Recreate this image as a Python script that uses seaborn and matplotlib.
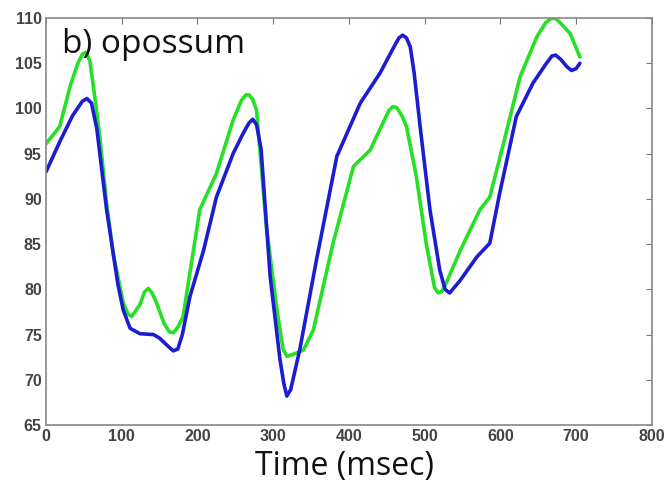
import matplotlib
matplotlib.use("Agg")
import matplotlib.pyplot as plt
import seaborn as sns
import pandas as pd

# Blue trace
blue_t = [0, 18, 35, 48, 54, 60, 67, 80, 95, 102, 111, 124, 142, 150, 160, 168, 174, 180, 190, 208, 225, 247,
          260, 268, 273, 278, 284, 296, 309, 314, 318, 323, 335, 357, 384, 415, 441, 460, 466, 471, 476, 481,
          486, 494, 507, 520, 527, 533, 547, 569, 586, 599, 621, 643, 660, 668, 673, 680, 688, 694, 700, 705]
blue_v = [93.0, 96.3, 99.2, 100.8, 101.1, 100.6, 97.8, 88.8, 80.5, 77.7, 75.7, 75.1, 75.0, 74.6, 73.8, 73.2,
          73.4, 75.0, 79.2, 84.3, 90.2, 95.0, 97.2, 98.4, 98.8, 98.2, 95.5, 81.4, 72.2, 69.6, 68.2, 68.9, 73.3,
          83.2, 94.7, 100.6, 103.9, 106.9, 107.8, 108.1, 107.8, 106.8, 104.0, 98.0, 88.8, 82.1, 80.0, 79.6, 81.0,
          83.6, 85.1, 90.6, 99.1, 102.8, 104.9, 105.8, 105.9, 105.4, 104.6, 104.2, 104.4, 105.0]

# Green trace
green_t = [0, 18, 32, 42, 48, 53, 58, 64, 71, 80, 89, 102, 108, 113, 124, 130, 135, 140, 146, 156, 163, 168, 174,
           181, 203, 225, 247, 258, 264, 268, 273, 278, 291, 305, 313, 318, 326, 340, 353, 379, 406, 428, 445,
           453, 458, 463, 470, 476, 489, 502, 513, 518, 523, 530, 547, 573, 586, 604, 626, 648, 660, 666, 670,
           675, 682, 692, 705]
green_v = [96.1, 98.0, 102.5, 105.0, 106.0, 106.2, 105.2, 101.5, 96.9, 89.5, 83.8, 78.5, 77.3, 77.0, 78.3, 79.7,
           80.1, 79.6, 78.5, 76.2, 75.3, 75.2, 75.8, 77.0, 88.8, 92.8, 98.7, 100.9, 101.5, 101.5, 101.0, 99.8, 86.9,
           77.7, 73.4, 72.6, 72.8, 73.3, 75.5, 85.1, 93.6, 95.4, 98.4, 99.8, 100.2, 100.1, 99.2, 98.0, 92.5, 85.1,
           80.2, 79.6, 79.8, 81.0, 84.3, 88.8, 90.2, 96.1, 103.5, 107.9, 109.5, 109.9, 110.0, 109.8, 109.2, 108.3,
           105.7]

x_ticks = [0, 100, 200, 300, 400, 500, 600, 700, 800]
y_ticks = [65, 70, 75, 80, 85, 90, 95, 100, 105, 110]

df = pd.concat([
    pd.DataFrame({"t": blue_t, "v": blue_v, "s": "blue"}),
    pd.DataFrame({"t": green_t, "v": green_v, "s": "green"}),
])

sns.set_style("white")
fig = plt.figure(figsize=(6.72, 4.83), dpi=100)
ax = fig.add_axes([0.0685, 0.120, 0.9015, 0.8427])

sns.lineplot(data=df, x="t", y="v", hue="s", palette={"blue": "#1c1cd2", "green": "#26e026"},
             hue_order=["green", "blue"], sort=False, estimator=None, linewidth=2.6, legend=False, ax=ax)
for ln in ax.get_lines():
    ln.set_solid_joinstyle("round")
    ln.set_solid_capstyle("round")

ax.set_xlim(0, 800)
ax.set_ylim(65, 110)
ax.set_xticks(x_ticks)
ax.set_yticks(y_ticks)
ax.set_xticklabels([str(v) for v in x_ticks])
ax.set_yticklabels([str(v) for v in y_ticks])
ax.tick_params(direction="in", length=4, width=0.8, color="#777777", top=True, right=True,
               labelsize=11.5, labelcolor="#444444", pad=3)
for lab in ax.get_xticklabels() + ax.get_yticklabels():
    lab.set_fontweight("bold")
    lab.set_family("Liberation Sans")
for sp in ax.spines.values():
    sp.set_color("#888888")
    sp.set_linewidth(1.2)

ax.set_xlabel("Time (msec)", fontsize=23, family="Open Sans", color="#111111", va="baseline")
ax.xaxis.set_label_coords(0.492, -0.123)
ax.set_ylabel("")
ax.text(0.026, 0.914, "b) opossum", transform=ax.transAxes, fontsize=24, family="Open Sans",
        color="#111111", va="baseline", ha="left")

fig.savefig("out.png", dpi=100)
